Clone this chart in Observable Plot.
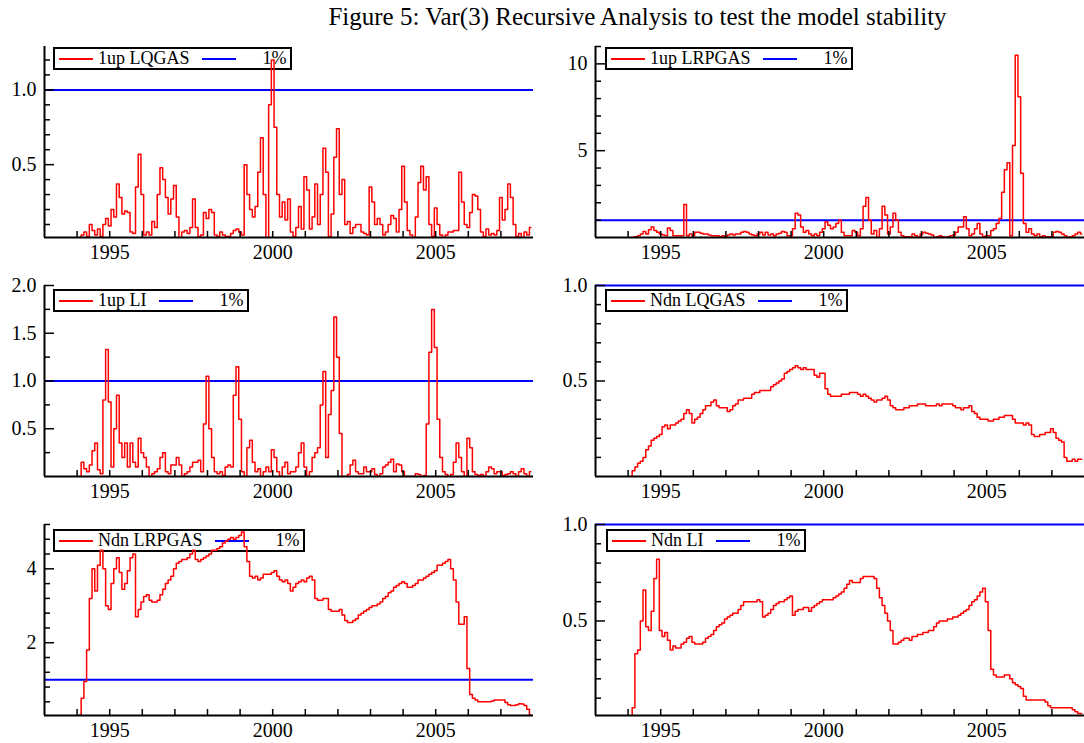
<!DOCTYPE html>
<html>
<head>
<meta charset="utf-8">
<script src="https://cdn.jsdelivr.net/npm/d3@7"></script>
<script src="https://cdn.jsdelivr.net/npm/@observablehq/plot@0.6"></script>
<style>
  html, body { margin: 0; padding: 0; background: #fff; }
  body { width: 1084px; height: 743px; overflow: hidden; position: relative;
         font-family: "Liberation Serif", "Times New Roman", serif; color: #000; }
  #title { position: absolute; top: 3px; left: 0; width: 1275px; text-align: center;
           font-size: 25px; white-space: nowrap; }
  .legend { position: absolute; border: 2px solid #000; height: 19px; display: flex;
            align-items: center; padding: 0 3px 0 4px; font-size: 18px; line-height: 19px;
            white-space: nowrap; box-sizing: content-box; }
  .sw { display: inline-block; width: 34px; height: 2px; }
  .sw.red { background: #ff0000; margin-right: 5px; }
  .sw.blue { background: #0000ff; }
  .lab { margin-right: 12px; }
  .pct { margin-left: 27px; }
  .panel { position: absolute; width: 545px; height: 241px; }
  .panel svg { max-width: none !important; }
</style>
</head>
<body>
<div id="title">Figure 5: Var(3) Recursive Analysis to test the model stability</div>
<div id="legends"></div>
<div id="panels"></div>
<script>
// Monthly values, first observation 1994:2, last 2007:12
const lqgas1up = [
  0.01, 0.03, 0.05, 0.02, 0.1, 0.06, 0.03, 0.07, 0.02, 0.1, 0.14,
  0.09, 0.2, 0.15, 0.37, 0.28, 0.17, 0.19, 0.18, 0.05, 0.04, 0.35, 0.57,
  0.3, 0.03, 0.05, 0.03, 0.12, 0.08, 0.3, 0.48, 0.4, 0.28, 0.17, 0.27,
  0.36, 0.15, 0.01, 0.05, 0.06, 0.04, 0.08, 0.27, 0.08, 0.02, 0.03, 0.18,
  0.14, 0.2, 0.18, 0.03, 0.02, 0.05, 0.03, 0.02, 0.02, 0.04, 0.06, 0.07,
  0.05, 0.03, 0.5, 0.3, 0.2, 0.15, 0.22, 0.45, 0.68, 0.3, 0.0, 0.9,
  1.2, 0.75, 0.3, 0.15, 0.25, 0.13, 0.27, 0.05, 0.02, 0.08, 0.22, 0.07,
  0.42, 0.33, 0.07, 0.15, 0.37, 0.1, 0.3, 0.61, 0.45, 0.02, 0.17, 0.55,
  0.74, 0.3, 0.4, 0.1, 0.12, 0.04, 0.08, 0.1, 0.1, 0.05, 0.04, 0.03,
  0.35, 0.25, 0.1, 0.14, 0.1, 0.03, 0.05, 0.1, 0.16, 0.14, 0.05, 0.2,
  0.49, 0.25, 0.06, 0.03, 0.01, 0.15, 0.38, 0.49, 0.33, 0.42, 0.1, 0.02,
  0.21, 0.1, 0.03, 0.01, 0.03, 0.05, 0.05, 0.06, 0.06, 0.45, 0.25, 0.1,
  0.08, 0.18, 0.3, 0.29, 0.2, 0.05, 0.02, 0.07, 0.03, 0.04, 0.03, 0.06,
  0.28, 0.13, 0.2, 0.37, 0.28, 0.1, 0.02, 0.04, 0.01, 0.05, 0.03, 0.08
];
const lrpgas1up = [
  0.0, 0.0, 0.05, 0.1, 0.2, 0.35, 0.2, 0.45, 0.6, 0.4, 0.3,
  0.2, 0.15, 0.1, 0.55, 0.4, 0.1, 0.1, 0.1, 0.1, 1.9, 0.1, 0.2,
  0.1, 0.3, 0.3, 0.25, 0.2, 0.2, 0.15, 0.1, 0.1, 0.1, 0.05, 0.1,
  0.05, 0.15, 0.2, 0.15, 0.2, 0.2, 0.3, 0.35, 0.3, 0.2, 0.15, 0.1,
  0.2, 0.3, 0.15, 0.3, 0.15, 0.2, 0.1, 0.2, 0.25, 0.35, 0.3, 0.1,
  0.1, 0.5, 1.4, 1.3, 0.6, 0.3, 0.4, 0.2, 0.1, 0.2, 0.1, 0.3,
  0.5, 0.9, 0.7, 0.5, 0.6, 0.8, 1.0, 0.3, 0.1, 0.1, 0.1, 0.4,
  0.3, 0.1, 0.5, 1.8, 2.3, 1.0, 0.2, 0.4, 0.0, 0.5, 1.8, 1.3,
  0.2, 0.6, 1.4, 1.0, 0.3, 0.1, 0.05, 0.05, 0.05, 0.2, 0.1, 0.05,
  0.2, 0.3, 0.25, 0.2, 0.15, 0.0, 0.05, 0.1, 0.05, 0.0, 0.05, 0.1,
  0.15, 0.3, 0.6, 0.6, 1.2, 0.5, 0.1, 0.2, 0.5, 0.8, 0.2, 0.05,
  0.1, 0.1, 0.4, 0.5, 0.8, 1.1, 2.6, 3.9, 4.3, 0.1, 5.3, 10.5,
  8.1, 3.7, 0.8, 0.3, 0.5, 0.2, 0.1, 0.2, 0.05, 0.1, 0.05, 0.05,
  0.0, 0.3, 0.35, 0.3, 0.2, 0.1, 0.0, 0.05, 0.1, 0.2, 0.3, 0.2
];
const li1up = [
  0.0, 0.15, 0.08, 0.05, 0.12, 0.27, 0.35, 0.07, 0.03, 0.8, 1.33,
  0.78, 0.1, 0.5, 0.85, 0.35, 0.2, 0.35, 0.1, 0.35, 0.15, 0.1, 0.4,
  0.25, 0.2, 0.1, 0.0, 0.03, 0.05, 0.08, 0.2, 0.25, 0.05, 0.03, 0.12,
  0.12, 0.2, 0.12, 0.0, 0.03, 0.05, 0.1, 0.15, 0.15, 0.17, 0.05, 0.55,
  1.05, 0.5, 0.2, 0.05, 0.03, 0.05, 0.01, 0.1, 0.12, 0.1, 0.85, 1.15,
  0.6, 0.05, 0.0, 0.3, 0.38, 0.15, 0.05, 0.08, 0.0, 0.05, 0.1, 0.05,
  0.28, 0.2, 0.05, 0.0, 0.1, 0.15, 0.03, 0.05, 0.05, 0.1, 0.25, 0.35,
  0.1, 0.0, 0.05, 0.2, 0.25, 0.3, 0.75, 1.1, 0.2, 0.65, 0.9, 1.67,
  1.25, 0.45, 0.0, 0.0, 0.02, 0.12, 0.17, 0.05, 0.03, 0.03, 0.1, 0.05,
  0.05, 0.08, 0.02, 0.0, 0.03, 0.1, 0.12, 0.15, 0.18, 0.05, 0.13, 0.12,
  0.05, 0.0, 0.0, 0.0, 0.0, 0.03, 0.02, 0.0, 0.01, 0.55, 1.3, 1.75,
  1.35, 0.6, 0.2, 0.05, 0.02, 0.0, 0.02, 0.15, 0.35, 0.2, 0.05, 0.0,
  0.4, 0.3, 0.05, 0.02, 0.01, 0.02, 0.0, 0.05, 0.1, 0.08, 0.03, 0.05,
  0.05, 0.01, 0.02, 0.03, 0.05, 0.03, 0.0, 0.05, 0.08, 0.03, 0.0, 0.05
];
const lqgasNdn = [
  0.0, 0.03, 0.05, 0.07, 0.08, 0.1, 0.14, 0.16, 0.19, 0.2, 0.21,
  0.22, 0.26, 0.27, 0.25, 0.27, 0.27, 0.28, 0.29, 0.3, 0.33, 0.35, 0.33,
  0.28, 0.3, 0.31, 0.33, 0.35, 0.37, 0.37, 0.39, 0.4, 0.37, 0.36, 0.36,
  0.36, 0.34, 0.35, 0.37, 0.38, 0.4, 0.4, 0.41, 0.41, 0.41, 0.43, 0.44,
  0.44, 0.45, 0.45, 0.45, 0.45, 0.47, 0.48, 0.49, 0.5, 0.51, 0.54, 0.55,
  0.56, 0.57, 0.58, 0.57, 0.56, 0.57, 0.56, 0.56, 0.56, 0.53, 0.52, 0.54,
  0.54, 0.46, 0.43, 0.42, 0.42, 0.42, 0.42, 0.43, 0.43, 0.43, 0.44, 0.44,
  0.44, 0.43, 0.42, 0.43, 0.42, 0.41, 0.4, 0.39, 0.4, 0.4, 0.41, 0.42,
  0.4, 0.37, 0.36, 0.35, 0.35, 0.35, 0.36, 0.36, 0.37, 0.37, 0.37, 0.38,
  0.38, 0.38, 0.37, 0.37, 0.37, 0.37, 0.38, 0.37, 0.38, 0.38, 0.38, 0.38,
  0.37, 0.36, 0.36, 0.35, 0.36, 0.36, 0.37, 0.34, 0.33, 0.31, 0.3, 0.3,
  0.3, 0.29, 0.29, 0.3, 0.3, 0.31, 0.31, 0.32, 0.32, 0.32, 0.3, 0.28,
  0.28, 0.28, 0.27, 0.28, 0.27, 0.22, 0.21, 0.21, 0.22, 0.22, 0.23, 0.23,
  0.25, 0.23, 0.2, 0.19, 0.18, 0.1, 0.08, 0.08, 0.09, 0.08, 0.09, 0.09
];
const lrpgasNdn = [
  0.05, 0.5, 0.95, 1.8, 3.2, 4.0, 3.4, 4.1, 4.5, 4.0, 3.0,
  2.9, 3.6, 4.0, 4.3, 3.9, 3.45, 3.6, 3.95, 4.3, 4.4, 2.7, 2.9,
  3.1, 3.25, 3.3, 3.15, 3.1, 3.1, 3.15, 3.3, 3.45, 3.6, 3.7, 3.8,
  4.0, 4.15, 4.2, 4.25, 4.25, 4.3, 4.4, 4.5, 4.25, 4.2, 4.25, 4.3,
  4.35, 4.4, 4.5, 4.5, 4.55, 4.6, 4.7, 4.75, 4.8, 4.85, 4.8, 4.85,
  4.9, 5.0, 4.6, 4.2, 3.8, 3.75, 3.8, 3.7, 3.75, 3.85, 3.85, 3.85,
  3.9, 3.95, 3.8, 3.7, 3.65, 3.7, 3.6, 3.4, 3.5, 3.6, 3.65, 3.7,
  3.65, 3.75, 3.8, 3.7, 3.2, 3.15, 3.15, 3.2, 3.2, 2.9, 2.85, 2.85,
  2.85, 2.9, 2.75, 2.6, 2.55, 2.55, 2.6, 2.65, 2.75, 2.8, 2.85, 2.9,
  2.95, 3.0, 3.0, 3.05, 3.1, 3.2, 3.25, 3.35, 3.4, 3.5, 3.55, 3.6,
  3.65, 3.6, 3.5, 3.5, 3.55, 3.6, 3.7, 3.7, 3.75, 3.8, 3.85, 3.9,
  3.95, 4.1, 4.1, 4.15, 4.2, 4.25, 4.0, 3.7, 3.1, 2.5, 2.5, 2.7,
  1.3, 0.6, 0.5, 0.45, 0.4, 0.4, 0.4, 0.4, 0.4, 0.42, 0.45, 0.45,
  0.45, 0.45, 0.38, 0.32, 0.3, 0.3, 0.32, 0.35, 0.34, 0.3, 0.2, 0.05
];
const liNdn = [
  0.0, 0.05, 0.33, 0.35, 0.5, 0.66, 0.47, 0.45, 0.55, 0.72, 0.82,
  0.45, 0.42, 0.44, 0.4, 0.35, 0.37, 0.36, 0.36, 0.38, 0.39, 0.41, 0.42,
  0.39, 0.38, 0.38, 0.38, 0.39, 0.41, 0.42, 0.43, 0.45, 0.47, 0.48, 0.49,
  0.51, 0.52, 0.53, 0.54, 0.54, 0.56, 0.58, 0.6, 0.6, 0.6, 0.6, 0.6,
  0.61, 0.6, 0.52, 0.53, 0.54, 0.56, 0.58, 0.59, 0.6, 0.6, 0.61, 0.62,
  0.63, 0.53, 0.55, 0.56, 0.56, 0.57, 0.57, 0.55, 0.57, 0.58, 0.59, 0.6,
  0.61, 0.61, 0.61, 0.61, 0.62, 0.63, 0.64, 0.65, 0.67, 0.69, 0.71, 0.7,
  0.7, 0.7, 0.72, 0.73, 0.73, 0.73, 0.73, 0.72, 0.67, 0.62, 0.58, 0.54,
  0.5, 0.45, 0.38, 0.38, 0.39, 0.4, 0.41, 0.41, 0.4, 0.42, 0.42, 0.43,
  0.43, 0.44, 0.44, 0.45, 0.45, 0.47, 0.49, 0.5, 0.5, 0.5, 0.51, 0.51,
  0.52, 0.52, 0.53, 0.54, 0.55, 0.56, 0.58, 0.6, 0.61, 0.63, 0.65, 0.67,
  0.6, 0.45, 0.25, 0.22, 0.21, 0.21, 0.21, 0.22, 0.22, 0.2, 0.18, 0.17,
  0.16, 0.15, 0.11, 0.09, 0.09, 0.09, 0.09, 0.09, 0.09, 0.09, 0.08, 0.06,
  0.05, 0.05, 0.05, 0.05, 0.05, 0.05, 0.05, 0.05, 0.04, 0.03, 0.02, 0.02
];

const startYear = 1994, startMonth = 2;
const criticalValue = 1;            // the "1%" line
const legendNames = ["1up LQGAS", "1up LRPGAS", "1up LI", "Ndn LQGAS", "Ndn LRPGAS", "Ndn LI"];
const xYearTicks = [1994, 1995, 1996, 1997, 1998, 1999, 2000, 2001, 2002, 2003, 2004, 2005, 2006, 2007];
const xYearLabels = [1995, 2000, 2005];
const xDomain = [1993, 2008];

const p1Major = [0.5, 1.0], p1Minor = [0.1, 0.2, 0.3, 0.4, 0.6, 0.7, 0.8, 0.9, 1.1, 1.2];
const p2Major = [5, 10],    p2Minor = [1, 2, 3, 4, 6, 7, 8, 9, 11];
const p3Major = [0.5, 1.0, 1.5, 2.0], p3Minor = [0.25, 0.75, 1.25, 1.75];
const p4Major = [0.5, 1.0], p4Minor = [0.1, 0.2, 0.3, 0.4, 0.6, 0.7, 0.8, 0.9];
const p5Major = [2, 4],     p5Minor = [0.4, 0.8, 1.2, 1.6, 2.4, 2.8, 3.2, 3.6, 4.4, 4.8, 5.2];
const p6Major = [0.5, 1.0], p6Minor = [0.1, 0.2, 0.3, 0.4, 0.6, 0.7, 0.8, 0.9];

const toRows = (arr) => arr.map((v, i) => ({t: startYear + (startMonth - 1 + i) / 12, v}));

const W = 545, H = 241, ML = 44, MR = 12, MT = 16, MB = 34;
const PW = W - ML - MR, PH = H - MT - MB;
const FONT = "Liberation Serif, Times New Roman, serif";

const panels = [
  {series: lqgas1up,  name: legendNames[0], dom: [0.013, 1.29], major: p1Major, minor: p1Minor, fmt: d3.format(".1f"), left: 0,   top: 30,  lg: [53, 47]},
  {series: lrpgas1up, name: legendNames[1], dom: [0, 11],       major: p2Major, minor: p2Minor, fmt: d3.format("d"),   left: 551, top: 30,  lg: [605, 47]},
  {series: li1up,     name: legendNames[2], dom: [0, 2.0],      major: p3Major, minor: p3Minor, fmt: d3.format(".1f"), left: 0,   top: 269, lg: [53, 289]},
  {series: lqgasNdn,  name: legendNames[3], dom: [0, 1.0],      major: p4Major, minor: p4Minor, fmt: d3.format(".1f"), left: 551, top: 269, lg: [605, 289]},
  {series: lrpgasNdn, name: legendNames[4], dom: [0.03, 5.2],   major: p5Major, minor: p5Minor, fmt: d3.format("d"),   left: 0,   top: 508, lg: [53, 529]},
  {series: liNdn,     name: legendNames[5], dom: [0.01, 1.0],   major: p6Major, minor: p6Minor, fmt: d3.format(".1f"), left: 551, top: 508, lg: [606, 529]}
];

const legendsDiv = document.getElementById("legends");
const panelsDiv = document.getElementById("panels");

for (const p of panels) {
  const lg = document.createElement("div");
  lg.className = "legend";
  lg.style.left = p.lg[0] + "px";
  lg.style.top = p.lg[1] + "px";
  lg.innerHTML = `<span class="sw red"></span><span class="lab">${p.name}</span><span class="sw blue"></span><span class="pct">1%</span>`;
  legendsDiv.appendChild(lg);

  const chart = Plot.plot({
    width: W, height: H,
    marginLeft: ML, marginRight: MR, marginTop: MT, marginBottom: MB,
    x: {domain: xDomain, axis: null},
    y: {domain: p.dom, axis: null},
    style: `background: transparent; overflow: visible; max-width: none; font-family: ${FONT}; color: #000;`,
    marks: [
      Plot.ruleY([criticalValue], {stroke: "#0000ff", strokeWidth: 2}),
      Plot.line(toRows(p.series), {x: "t", y: "v", stroke: "#ff0000", strokeWidth: 1.5, curve: "step", clip: true}),
      Plot.ruleX([xDomain[0]], {stroke: "#000", strokeWidth: 2}),
      Plot.ruleY([p.dom[0]], {stroke: "#000", strokeWidth: 2}),
      Plot.tickY(p.minor, {y: d => d, stroke: "#000", strokeWidth: 1.5, insetRight: PW - 6}),
      Plot.tickY(p.major, {y: d => d, stroke: "#000", strokeWidth: 1.5, insetRight: PW - 10}),
      Plot.tickX(xYearTicks, {x: d => d, stroke: "#000", strokeWidth: 1.5, insetTop: PH - 6}),
      Plot.text(p.major, {x: xDomain[0], y: d => d, text: d => p.fmt(d), textAnchor: "end", dx: -8, fontSize: 20, fontFamily: FONT, fill: "#000"}),
      Plot.text(xYearLabels, {x: d => d, y: p.dom[0], text: d => String(d), dy: 15, fontSize: 20, fontFamily: FONT, fill: "#000"})
    ]
  });
  const wrap = document.createElement("div");
  wrap.className = "panel";
  wrap.style.left = p.left + "px";
  wrap.style.top = p.top + "px";
  wrap.appendChild(chart);
  panelsDiv.appendChild(wrap);
}
</script>
</body>
</html>
